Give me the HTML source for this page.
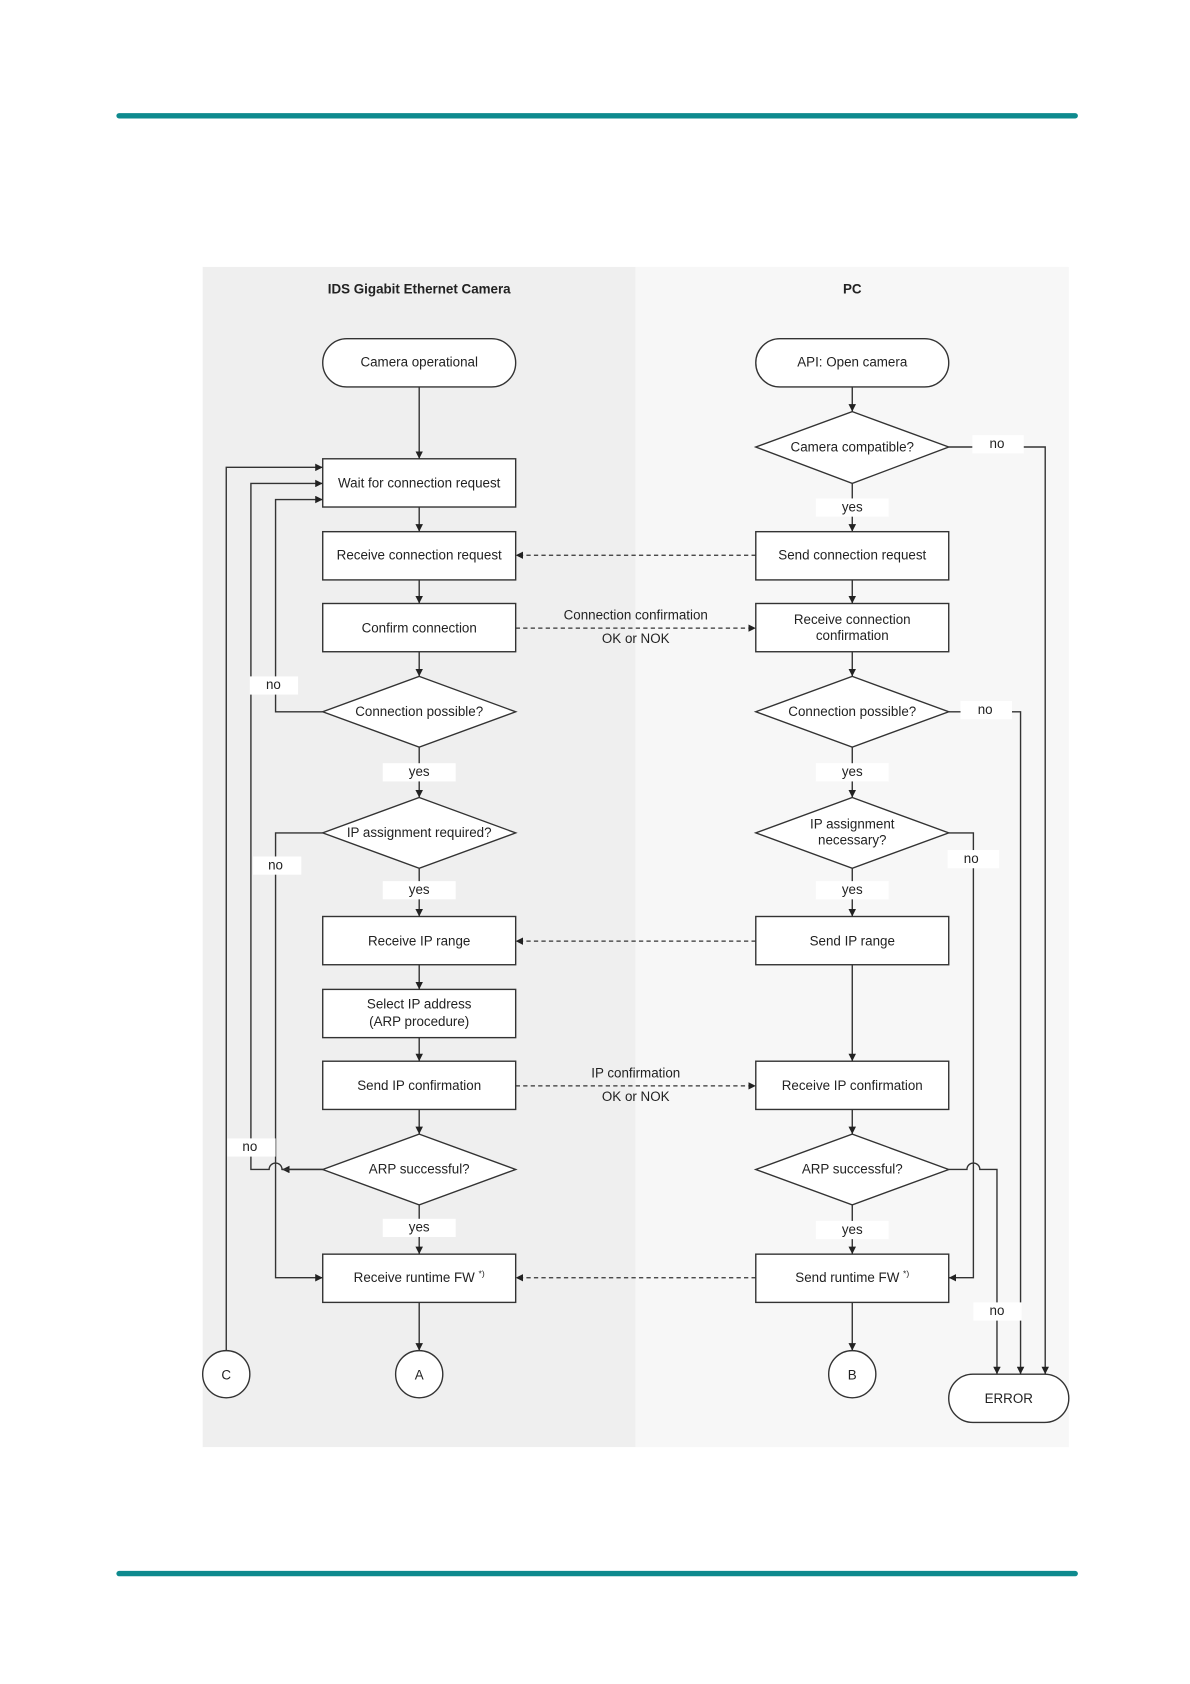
<!DOCTYPE html>
<html><head><meta charset="utf-8"><style>
html,body{margin:0;padding:0;background:#fff;}
svg{display:block;}
text{font-family:"Liberation Sans",Arial,sans-serif;font-size:12.5px;fill:#222;}
</style></head><body>
<svg width="1190" height="1684" viewBox="0 0 1110 1571" xmlns="http://www.w3.org/2000/svg">
<defs>
<marker id="a" viewBox="0 0 10 10" refX="10" refY="5" markerWidth="7" markerHeight="7" orient="auto-start-reverse" markerUnits="userSpaceOnUse"><path d="M0,0 L10,5 L0,10 z" fill="#222"/></marker>
</defs>
<rect x="0" y="0" width="1110" height="1571" fill="#fff"/>
<line x1="111" y1="108" x2="1003" y2="108" stroke="#0e8a8e" stroke-width="5" stroke-linecap="round"/>
<line x1="111" y1="1468" x2="1003" y2="1468" stroke="#0e8a8e" stroke-width="5" stroke-linecap="round"/>
<rect x="189" y="249" width="404" height="1101" fill="#efefef"/>
<rect x="593" y="249" width="404" height="1101" fill="#f7f7f7"/>
<text x="391" y="274" text-anchor="middle" font-weight="bold">IDS Gigabit Ethernet Camera</text>
<text x="795" y="274" text-anchor="middle" font-weight="bold">PC</text>

<g stroke="#333" stroke-width="1.3" fill="#fff">
<rect x="301" y="316" width="180" height="45" rx="22.5"/>
<rect x="705" y="316" width="180" height="45" rx="22.5"/>
<rect x="301" y="428" width="180" height="45"/>
<rect x="301" y="496" width="180" height="45"/>
<rect x="301" y="563" width="180" height="45"/>
<polygon points="391,631 481,664 391,697 301,664"/>
<polygon points="391,744 481,777 391,810 301,777"/>
<rect x="301" y="855" width="180" height="45"/>
<rect x="301" y="923" width="180" height="45"/>
<rect x="301" y="990" width="180" height="45"/>
<polygon points="391,1058 481,1091 391,1124 301,1091"/>
<rect x="301" y="1170" width="180" height="45"/>
<circle cx="391" cy="1282" r="22"/>
<circle cx="211" cy="1282" r="22"/>
<polygon points="795,384 885,417 795,451 705,417"/>
<rect x="705" y="496" width="180" height="45"/>
<rect x="705" y="563" width="180" height="45"/>
<polygon points="795,631 885,664 795,697 705,664"/>
<polygon points="795,744 885,777 795,810 705,777"/>
<rect x="705" y="855" width="180" height="45"/>
<rect x="705" y="990" width="180" height="45"/>
<polygon points="795,1058 885,1091 795,1124 705,1091"/>
<rect x="705" y="1170" width="180" height="45"/>
<circle cx="795" cy="1282" r="22"/>
<rect x="885" y="1282" width="112" height="45" rx="22.5"/>
</g>

<g stroke="#333" stroke-width="1.3" fill="none">
<!-- left vertical flow -->
<line x1="391" y1="361" x2="391" y2="428" marker-end="url(#a)"/>
<line x1="391" y1="473" x2="391" y2="496" marker-end="url(#a)"/>
<line x1="391" y1="541" x2="391" y2="563" marker-end="url(#a)"/>
<line x1="391" y1="608" x2="391" y2="631" marker-end="url(#a)"/>
<line x1="391" y1="697" x2="391" y2="744" marker-end="url(#a)"/>
<line x1="391" y1="810" x2="391" y2="855" marker-end="url(#a)"/>
<line x1="391" y1="900" x2="391" y2="923" marker-end="url(#a)"/>
<line x1="391" y1="968" x2="391" y2="990" marker-end="url(#a)"/>
<line x1="391" y1="1035" x2="391" y2="1058" marker-end="url(#a)"/>
<line x1="391" y1="1124" x2="391" y2="1170" marker-end="url(#a)"/>
<line x1="391" y1="1215" x2="391" y2="1260" marker-end="url(#a)"/>
<!-- right vertical flow -->
<line x1="795" y1="361" x2="795" y2="384" marker-end="url(#a)"/>
<line x1="795" y1="451" x2="795" y2="496" marker-end="url(#a)"/>
<line x1="795" y1="541" x2="795" y2="563" marker-end="url(#a)"/>
<line x1="795" y1="608" x2="795" y2="631" marker-end="url(#a)"/>
<line x1="795" y1="697" x2="795" y2="744" marker-end="url(#a)"/>
<line x1="795" y1="810" x2="795" y2="855" marker-end="url(#a)"/>
<line x1="795" y1="900" x2="795" y2="990" marker-end="url(#a)"/>
<line x1="795" y1="1035" x2="795" y2="1058" marker-end="url(#a)"/>
<line x1="795" y1="1124" x2="795" y2="1170" marker-end="url(#a)"/>
<line x1="795" y1="1215" x2="795" y2="1260" marker-end="url(#a)"/>
<!-- left loops -->
<polyline points="211,1260 211,436 301,436" marker-end="url(#a)"/>
<polyline points="301,1091 263,1091 a6,6 0 0 0 -12,0 L234,1091 234,451 301,451" marker-end="url(#a)"/>
<path d="M301,1091 L263,1091 A6,6 0 0 0 251,1091 L234,1091 L234,451 L301,451" marker-end="url(#a)"/>
<polyline points="301,664 257,664 257,466 301,466" marker-end="url(#a)"/>
<polyline points="301,777 257,777 257,1192 301,1192" marker-end="url(#a)"/>
<!-- right no lines -->
<polyline points="885,417 975,417 975,1282" marker-end="url(#a)"/>
<polyline points="885,664 952,664 952,1282" marker-end="url(#a)"/>
<polyline points="885,777 908,777 908,1192 885,1192" marker-end="url(#a)"/>
<path d="M885,1091 L902,1091 A6,6 0 0 1 914,1091 L930,1091 L930,1282" marker-end="url(#a)"/>
</g>
<!-- dashed -->
<g stroke="#333" stroke-width="1.2" fill="none" stroke-dasharray="4,3">
<line x1="705" y1="518" x2="481" y2="518" marker-end="url(#a)"/>
<line x1="481" y1="586" x2="705" y2="586" marker-end="url(#a)"/>
<line x1="705" y1="878" x2="481" y2="878" marker-end="url(#a)"/>
<line x1="481" y1="1013" x2="705" y2="1013" marker-end="url(#a)"/>
<line x1="705" y1="1192" x2="481" y2="1192" marker-end="url(#a)"/>
</g>
<!-- label backgrounds -->
<g fill="#fff">
<rect x="357" y="712" width="68" height="17"/>
<rect x="357" y="822" width="68" height="17"/>
<rect x="357" y="1137" width="68" height="17"/>
<rect x="761" y="465" width="68" height="17"/>
<rect x="761" y="712" width="68" height="17"/>
<rect x="761" y="822" width="68" height="17"/>
<rect x="761" y="1139" width="68" height="17"/>
<rect x="233" y="631" width="45" height="17"/>
<rect x="236" y="799" width="45" height="17"/>
<rect x="212" y="1062" width="45" height="17"/>
<rect x="907" y="406" width="48" height="17"/>
<rect x="896" y="654" width="48" height="17"/>
<rect x="884" y="793" width="48" height="17"/>
<rect x="908" y="1215" width="45" height="17"/>
</g>
<g text-anchor="middle">
<text x="391" y="342">Camera operational</text>
<text x="795" y="342">API: Open camera</text>
<text x="391" y="455">Wait for connection request</text>
<text x="391" y="522">Receive connection request</text>
<text x="391" y="590">Confirm connection</text>
<text x="391" y="668">Connection possible?</text>
<text x="391" y="781">IP assignment required?</text>
<text x="391" y="882">Receive IP range</text>
<text x="391" y="941">Select IP address</text>
<text x="391" y="957">(ARP procedure)</text>
<text x="391" y="1017">Send IP confirmation</text>
<text x="391" y="1095">ARP successful?</text>
<text x="391" y="1196">Receive runtime FW <tspan font-size="8" dy="-5">*)</tspan></text>
<text x="391" y="1287">A</text>
<text x="211" y="1287">C</text>
<text x="795" y="421">Camera compatible?</text>
<text x="795" y="522">Send connection request</text>
<text x="795" y="582">Receive connection</text>
<text x="795" y="597">confirmation</text>
<text x="795" y="668">Connection possible?</text>
<text x="795" y="773">IP assignment</text>
<text x="795" y="788">necessary?</text>
<text x="795" y="882">Send IP range</text>
<text x="795" y="1017">Receive IP confirmation</text>
<text x="795" y="1095">ARP successful?</text>
<text x="795" y="1196">Send runtime FW <tspan font-size="8" dy="-5">*)</tspan></text>
<text x="795" y="1287">B</text>
<text x="941" y="1309">ERROR</text>
<text x="593" y="578">Connection confirmation</text>
<text x="593" y="600">OK or NOK</text>
<text x="593" y="1005">IP confirmation</text>
<text x="593" y="1027">OK or NOK</text>
<text x="391" y="724">yes</text>
<text x="391" y="834">yes</text>
<text x="391" y="1149">yes</text>
<text x="795" y="477">yes</text>
<text x="795" y="724">yes</text>
<text x="795" y="834">yes</text>
<text x="795" y="1151">yes</text>
<text x="255" y="643">no</text>
<text x="257" y="811">no</text>
<text x="233" y="1074">no</text>
<text x="930" y="418">no</text>
<text x="919" y="666">no</text>
<text x="906" y="805">no</text>
<text x="930" y="1227">no</text>
</g>
</svg>
</body></html>
